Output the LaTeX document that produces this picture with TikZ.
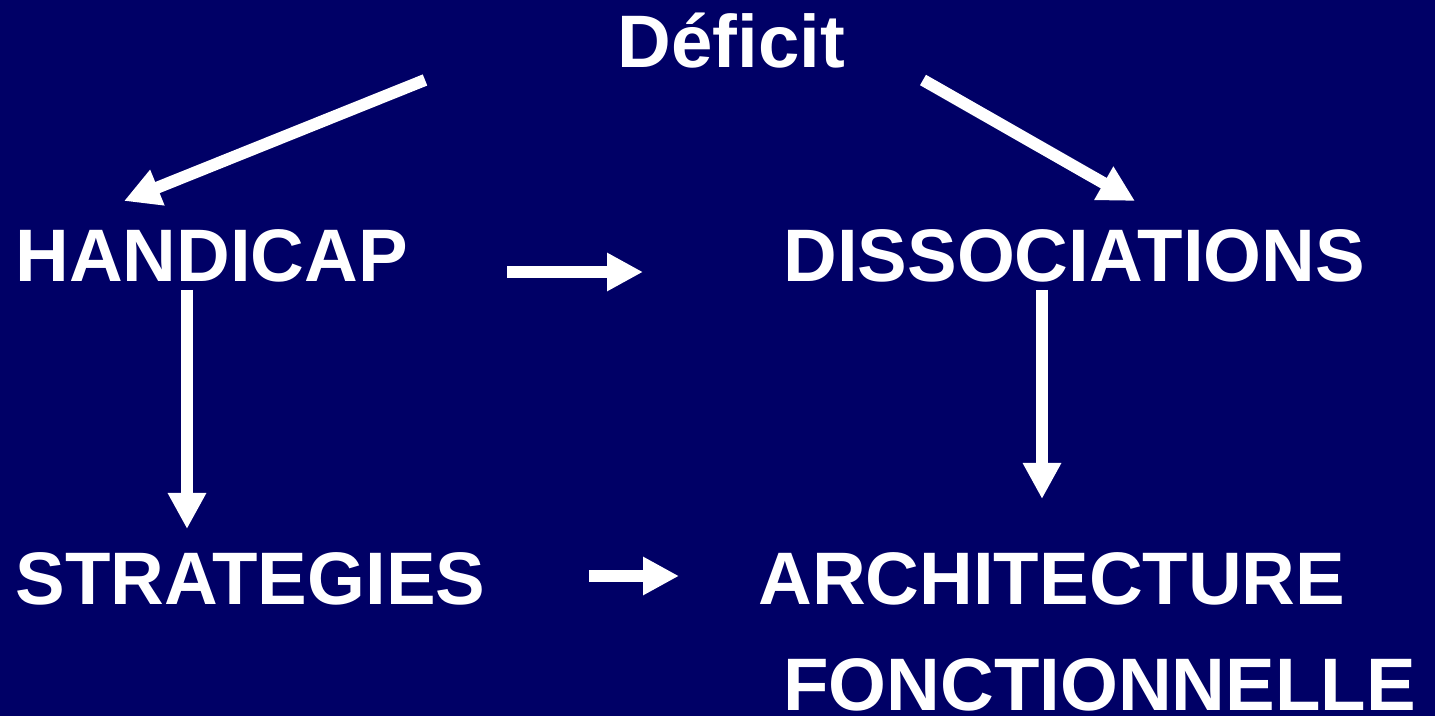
\documentclass[tikz,border=0pt]{standalone}
\usepackage{fontspec}
\setmainfont{Liberation Sans}
\usetikzlibrary{positioning, arrows.meta}
\definecolor{navy}{HTML}{000066}

\begin{document}
\begin{tikzpicture}[x=0.5pt, y=-0.5pt,
      lbl/.style = {text=white, inner sep=0pt, anchor=base west,
                   font=\fontsize{37.2}{44}\selectfont\bfseries},
      arr/.style = {draw=white, line width=6pt,
                   -{Triangle[length=18pt, width=18pt]}}
                        ]
\fill[navy] (0,0) rectangle (1435,716);
\useasboundingbox (0,0) rectangle (1435,716);
\node (deficit) [lbl, anchor=base] at (731.5,68) {Déficit};
\node (handicap) [lbl] at (15,282) {HANDICAP};
\node (dissoc) [lbl] at (783,282) {DISSOCIATIONS};
\node (strat) [lbl] at (15,604) {STRATEGIES};
\node (archi) [lbl] at (758,604) {ARCHITECTURE};
\node (fonct) [lbl] at (783,710) {FONCTIONNELLE};
\draw[arr] ([shift={(-306.5,12)}]deficit.base) to ([shift={(109,-81)}]handicap.base west);
\draw[arr] ([shift={(191.5,12)}]deficit.base) to ([shift={(352,-81)}]dissoc.base west);
\draw[arr] ([shift={(492,-10)}]handicap.base west) to ([shift={(-140,-10)}]dissoc.base west);
\draw[arr] ([shift={(172,8)}]handicap.base west) to ([shift={(172,-75)}]strat.base west);
\draw[arr] ([shift={(259,8)}]dissoc.base west) to ([shift={(284,-105)}]archi.base west);
\draw[arr] ([shift={(574,-28)}]strat.base west) to ([shift={(-79,-28)}]archi.base west);
\end{tikzpicture}
\end{document}
